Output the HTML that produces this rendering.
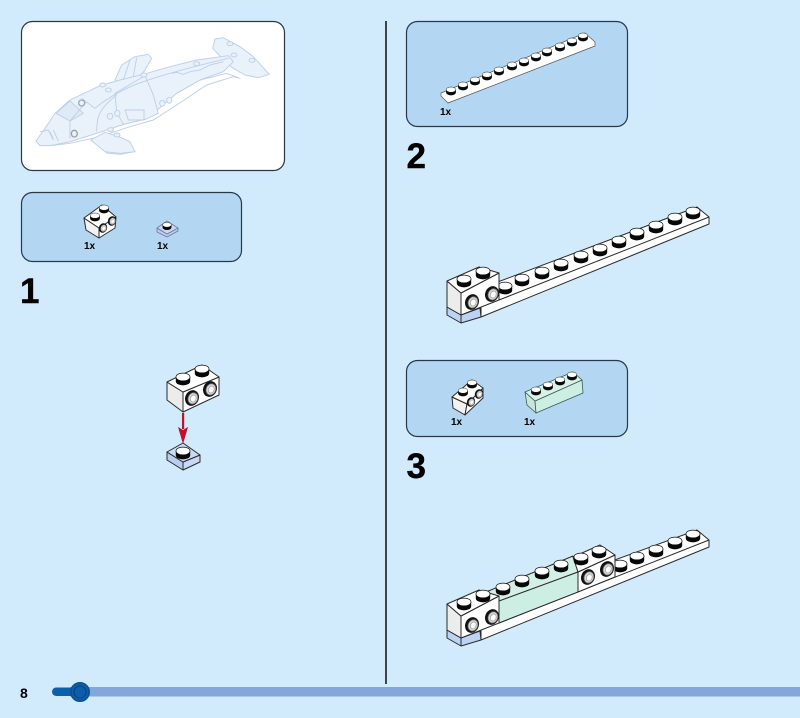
<!DOCTYPE html>
<html>
<head>
<meta charset="utf-8">
<style>
html,body{margin:0;padding:0;background:#d1ebfc;width:800px;height:718px;overflow:hidden}
svg{display:block}
text{font-family:"Liberation Sans",sans-serif;font-weight:bold;fill:#000}
.e{stroke:#2a2a2a;stroke-width:1;stroke-linejoin:round}
.d path,.d ellipse{stroke:#bdd0e5;stroke-width:2.8;stroke-linejoin:round;fill:#e9f1fb}
.d .l{fill:none}
.d .w{fill:#fff}
</style>
</head>
<body>
<svg width="800" height="718" viewBox="0 0 800 718" xmlns="http://www.w3.org/2000/svg">
<defs>
<g id="s"><path d="M-7.2-2V2.2A7.2 4.2 0 0 0 7.2 2.2V-2Z" fill="#080808"/><ellipse cx="0" cy="-2" rx="7" ry="3.9" fill="#fff" stroke="#111" stroke-width=".7"/></g>
<g id="h"><ellipse rx="6.8" ry="8" fill="#111" transform="rotate(22)"/><ellipse cx="1" cy="0" rx="4.8" ry="5.8" fill="#d9d9d9" stroke="#666" stroke-width=".8" transform="rotate(22)"/><ellipse cx="1.4" cy="0" rx="2.8" ry="3.6" fill="#fff" stroke="#999" stroke-width=".7" transform="rotate(22)"/></g>
</defs>
<rect width="800" height="718" fill="#d1ebfc"/>

<!-- panels -->
<rect x="21.5" y="21.5" width="263" height="149" rx="11" fill="#fff" stroke="#26384a" stroke-width="1.2"/>
<rect x="21.5" y="192.5" width="220" height="69" rx="11" fill="#b3d7f2" stroke="#26384a" stroke-width="1.2"/>
<rect x="406.5" y="21.5" width="221" height="105" rx="11" fill="#b3d7f2" stroke="#26384a" stroke-width="1.2"/>
<rect x="406.5" y="360.5" width="221" height="76" rx="11" fill="#b3d7f2" stroke="#26384a" stroke-width="1.2"/>
<line x1="386" y1="21" x2="386" y2="684" stroke="#1a1a1a" stroke-width="1.6"/>

<!-- dolphin -->
<g class="d" transform="translate(20 15) scale(.3333)">
<path class="w" d="M90 392L150 385L240 365L330 335L400 315L470 270L560 210L640 185L660 190L620 175L540 195L470 235L400 295L320 325L230 355L150 380Z"/>
<path d="M620 145L578 100L585 72L610 68L660 95L700 125L748 178L715 188L675 180L640 160Z"/>
<path class="w" d="M235 385L300 415L345 410L300 418L260 414Z"/>
<path d="M212 375L255 352L290 362L330 380L345 410L300 415L255 410Z"/>
<path d="M285 195L305 150L345 125L385 118L395 130L375 165L345 200L300 210Z"/>
<path d="M48 378L75 340L105 295L150 255L240 212L300 195L370 178L450 155L530 135L625 122L640 140L610 170L540 195L470 235L400 295L320 325L230 355L150 380L90 392L60 392Z"/>
<path d="M285 235L375 182L400 240L415 295L380 312L310 328L290 290Z"/>
<path d="M108 295L150 258L190 295L150 318Z" style="fill:#dfeaf7"/>
<path class="l" d="M100 345L115 378M150 318L150 370M150 318L200 260M185 250L225 280M225 280C260 250 320 215 385 195C460 170 540 150 625 130M230 350C230 300 240 280 290 240M315 285H372V315H325ZM455 175L470 172L490 178L510 170L540 165L570 150L610 140M60 350L85 345L100 375M90 350L100 372M330 135L310 195M350 128L340 185"/>
<ellipse cx="248" cy="210" rx="9" ry="6"/><ellipse cx="265" cy="225" rx="9" ry="6"/><ellipse cx="372" cy="180" rx="9" ry="6"/><ellipse cx="530" cy="146" rx="9" ry="6"/><ellipse cx="630" cy="86" rx="9" ry="6"/><ellipse cx="642" cy="120" rx="9" ry="6"/><ellipse cx="696" cy="136" rx="9" ry="6"/><ellipse cx="272" cy="344" rx="9" ry="6"/><ellipse cx="291" cy="360" rx="9" ry="6"/><ellipse cx="270" cy="304" rx="8" ry="9"/><ellipse cx="292" cy="295" rx="8" ry="9"/><ellipse cx="427" cy="265" rx="8" ry="9"/><ellipse cx="448" cy="256" rx="8" ry="9"/><ellipse cx="185" cy="264" rx="9" ry="9" style="stroke:#9aa8b8;stroke-width:4"/><ellipse cx="163" cy="356" rx="9" ry="10" style="stroke:#98a0a8;stroke-width:4"/>
</g>

<!-- panel 1 parts -->
<g class="e">
<path d="M84 218L99 228V238L86 230Z" fill="#f2f2f2"/><path d="M99 228L116 217L115 228L99 238Z" fill="#fff"/><path d="M84 218L102 205L116 217L99 228Z" fill="#fff"/>
</g>
<use href="#s" transform="translate(104 209) scale(.68)"/><use href="#s" transform="translate(95 217) scale(.68)"/>
<use href="#h" transform="translate(112 221) scale(.6)"/><use href="#h" transform="translate(103 228) scale(.6)"/>
<g stroke="#6d7c9c" stroke-width=".8" stroke-linejoin="round">
<path d="M157 228L167 234L178 228V231L167 237L157 232Z" fill="#bccbef"/><path d="M157 228L167 234L178 228L167 221Z" fill="#c9d6f4"/>
</g>
<use href="#s" transform="translate(167 226) scale(.62)"/>
<text x="84" y="249" font-size="10">1x</text><text x="157" y="249" font-size="10">1x</text>

<!-- panel 2 part -->
<path d="M441 93L585 33L595 42V46L448 103L441 96Z" fill="#fff" stroke="#555" stroke-width=".7" stroke-linejoin="round"/>
<g>
<use href="#s" transform="translate(583 37) scale(.68)"/><use href="#s" transform="translate(572 42) scale(.68)"/><use href="#s" transform="translate(560 47) scale(.68)"/><use href="#s" transform="translate(547 52) scale(.68)"/><use href="#s" transform="translate(536 57) scale(.68)"/><use href="#s" transform="translate(524 62) scale(.68)"/><use href="#s" transform="translate(512 66) scale(.68)"/><use href="#s" transform="translate(499 71) scale(.68)"/><use href="#s" transform="translate(487 76) scale(.68)"/><use href="#s" transform="translate(475 81) scale(.68)"/><use href="#s" transform="translate(463 86) scale(.68)"/><use href="#s" transform="translate(451 91) scale(.68)"/>
</g>
<text x="440" y="115" font-size="10">1x</text>

<!-- panel 3 parts -->
<g class="e">
<path d="M452 397L467 404L465 415L453 408Z" fill="#f2f2f2"/><path d="M467 404L483 388V398L465 415Z" fill="#fff"/><path d="M452 397L472 380L483 388L467 404Z" fill="#fff"/>
</g>
<use href="#s" transform="translate(472 384) scale(.68)"/><use href="#s" transform="translate(463 392) scale(.68)"/>
<use href="#h" transform="translate(479 394) scale(.6)"/><use href="#h" transform="translate(471 402) scale(.6)"/>
<g stroke="#3d5a54" stroke-width=".8" stroke-linejoin="round">
<path d="M525 392L535 401L536 413L527 405Z" fill="#c9e6dd"/><path d="M535 401L582 380L583 393L536 413Z" fill="#cdeee3"/><path d="M525 392L573 372L582 380L535 401Z" fill="#d7f2e9"/>
</g>
<g><use href="#s" transform="translate(572 376) scale(.68)"/><use href="#s" transform="translate(560 381) scale(.68)"/><use href="#s" transform="translate(548 386) scale(.68)"/><use href="#s" transform="translate(536 391) scale(.68)"/></g>
<text x="451" y="425" font-size="10">1x</text><text x="524" y="425" font-size="10">1x</text>

<!-- numbers -->
<text x="20" y="303" font-size="35" stroke="#000" stroke-width=".4">1</text>
<text x="406.5" y="168" font-size="35" stroke="#000" stroke-width=".4">2</text>
<text x="406.5" y="478" font-size="35" stroke="#000" stroke-width=".4">3</text>

<!-- step 1 -->
<g class="e" stroke-width="1.2">
<path d="M167 382L183 392V412L167 400Z" fill="#ececec"/><path d="M183 392L219 377V395L183 412Z" fill="#fff"/><path d="M167 382L202 365L219 377L183 392Z" fill="#fff"/>
</g>
<use href="#s" transform="translate(202 371)"/><use href="#s" transform="translate(183 379)"/>
<use href="#h" transform="translate(192 398)"/><use href="#h" transform="translate(210 389)"/>
<g class="e">
<path d="M167 452L183 462V470L167 460Z" fill="#b9cdf0"/><path d="M183 462L200 455V462L183 470Z" fill="#c7d9f5"/><path d="M167 452L183 443L200 455L183 462Z" fill="#c9dbf7"/>
</g>
<use href="#s" transform="translate(183 453)"/>
<rect x="182" y="413" width="2.2" height="16" fill="#c0102e"/>
<path d="M178 427L183 444L188 427L183 430Z" fill="#c0102e"/>

<!-- step 2 -->
<g class="e" stroke-width="1.1">
<path d="M495 283L697 207L709 217V224L481 317V303Z" fill="#fff"/>
<path d="M499 300L709 217" fill="none"/>
</g>
<use href="#s" transform="translate(693 213)"/><use href="#s" transform="translate(675 219)"/><use href="#s" transform="translate(656 227)"/><use href="#s" transform="translate(637 234)"/><use href="#s" transform="translate(619 242)"/><use href="#s" transform="translate(600 250)"/><use href="#s" transform="translate(581 257)"/><use href="#s" transform="translate(561 265)"/><use href="#s" transform="translate(542 273)"/><use href="#s" transform="translate(522 280)"/><use href="#s" transform="translate(505 288)"/>
<g class="e" stroke-width="1.1">
<path d="M447 307L461 315L480 308L481 317L461 323L447 315Z" fill="#bdd3f4"/>
<path d="M447 281L461 293V315L447 307Z" fill="#ececec"/><path d="M461 293L499 273V300L461 315Z" fill="#fff"/><path d="M447 281L479 267L499 273L461 293Z" fill="#fff"/>
<path d="M461 315V323" fill="none"/>
</g>
<use href="#s" transform="translate(483 273)"/><use href="#s" transform="translate(464 281)"/>
<use href="#h" transform="translate(472 302)"/><use href="#h" transform="translate(492 294)"/>

<!-- step 3 -->
<g class="e" stroke-width="1.1">
<path d="M612 561L697 530L709 540V547L481 640V623L578 592Z" fill="#fff"/>
<path d="M499 623L709 540" fill="none"/>
</g>
<use href="#s" transform="translate(693 536)"/><use href="#s" transform="translate(675 543)"/><use href="#s" transform="translate(656 551)"/><use href="#s" transform="translate(637 558)"/><use href="#s" transform="translate(620 566)"/>
<g class="e" stroke-width="1.1">
<path d="M486 592L573 556L578 572L499 602Z" fill="#d4f0e6"/>
<path d="M499 601L578 572V592L499 623Z" fill="#cdeee3"/>
<path d="M578 572L615 555V577L578 592Z" fill="#fff"/><path d="M573 557L600 545L615 555L578 572Z" fill="#fff"/>
</g>
<use href="#s" transform="translate(599 552)"/><use href="#s" transform="translate(581 559)"/>
<use href="#h" transform="translate(588 577)"/><use href="#h" transform="translate(607 569)"/>
<use href="#s" transform="translate(561 566)"/><use href="#s" transform="translate(542 573)"/><use href="#s" transform="translate(522 581)"/><use href="#s" transform="translate(503 589)"/>
<g class="e" stroke-width="1.1">
<path d="M447 630L461 638L480 631L481 640L461 646L447 638Z" fill="#bdd3f4"/>
<path d="M447 604L461 616V638L447 630Z" fill="#ececec"/><path d="M461 616L499 596V623L461 638Z" fill="#fff"/><path d="M447 604L479 590L499 596L461 616Z" fill="#fff"/>
<path d="M461 638V646" fill="none"/>
</g>
<use href="#s" transform="translate(483 596)"/><use href="#s" transform="translate(464 604)"/>
<use href="#h" transform="translate(472 625)"/><use href="#h" transform="translate(492 617)"/>

<!-- footer -->
<rect x="70" y="687" width="730" height="9.5" fill="#82a7dc"/>
<rect x="52" y="687.5" width="30" height="8.5" rx="4.2" fill="#0a60ad"/>
<circle cx="80" cy="692" r="9.2" fill="#0a5fac" stroke="#0b4f94" stroke-width="1.6"/>
<circle cx="80" cy="692" r="6" fill="none" stroke="#083f78" stroke-width="1"/>
<text x="20" y="698" font-size="14">8</text>
</svg>
</body>
</html>
